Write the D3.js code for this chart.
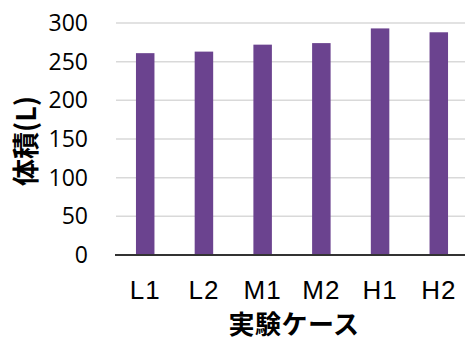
<!DOCTYPE html>
<html>
<head>
<meta charset="utf-8">
<script src="https://cdn.jsdelivr.net/npm/d3@7"></script>
<style>
  html, body { margin: 0; padding: 0; background: #fff; }
  svg { display: block; }
</style>
</head>
<body>
<svg id="chart" width="465" height="341"></svg>
<script>
// Experiment cases and measured volume (L)
const cases = ["L1", "L2", "M1", "M2", "H1", "H2"];
const volumes = [261, 263, 272, 274, 293, 288];
const yTicks = [0, 50, 100, 150, 200, 250, 300];

const W = 465, H = 341;
const margin = { top: 23, right: -3, bottom: 86, left: 116 };

const svg = d3.select("#chart");

const x = d3.scaleBand()
  .domain(cases)
  .range([margin.left, W - margin.right])
  .paddingInner(0.685)
  .paddingOuter(0.34);

const y = d3.scaleLinear()
  .domain([0, 300])
  .range([H - margin.bottom, margin.top]);

// horizontal gridlines
svg.append("g")
  .selectAll("line")
  .data(yTicks.filter(d => d > 0))
  .join("line")
  .attr("x1", margin.left)
  .attr("x2", W)
  .attr("y1", d => y(d))
  .attr("y2", d => y(d))
  .attr("stroke", "#d9d9d9")
  .attr("stroke-width", 1.5);

// y axis labels
const yAxis = d3.axisLeft(y).tickValues(yTicks).tickSize(0).tickPadding(0);
const gy = svg.append("g")
  .attr("transform", `translate(88,0)`)
  .call(yAxis);
gy.select(".domain").remove();
gy.selectAll("text")
  .attr("font-family", "'Open Sans', 'Noto Sans', sans-serif")
  .attr("font-size", 23)
  .attr("fill", "#000");

// bars
svg.append("g")
  .selectAll("rect")
  .data(cases.map((c, i) => ({ c, v: volumes[i] })))
  .join("rect")
  .attr("x", d => x(d.c))
  .attr("width", x.bandwidth())
  .attr("y", d => y(d.v))
  .attr("height", d => y(0) - y(d.v))
  .attr("fill", "#6b438f");

// x axis
const xAxis = d3.axisBottom(x).tickSize(0).tickPadding(26);
const gx = svg.append("g")
  .attr("transform", `translate(0,${y(0)})`)
  .call(xAxis);
gx.select(".domain")
  .attr("d", `M${margin.left - 1},0H${W}`)
  .attr("stroke", "#333")
  .attr("stroke-width", 2);
gx.selectAll("text")
  .attr("font-family", "'Liberation Sans', Arial, sans-serif")
  .attr("font-size", 26)
  .attr("letter-spacing", 1)
  .attr("fill", "#000");

// axis titles
svg.append("text")
  .attr("x", 294)
  .attr("y", 334)
  .attr("text-anchor", "middle")
  .attr("font-family", "'Noto Sans CJK JP', sans-serif")
  .attr("font-weight", "bold")
  .attr("font-size", 26)
  .attr("letter-spacing", 0.5)
  .text("実験ケース");

svg.append("text")
  .attr("transform", `translate(36,141) rotate(-90)`)
  .attr("text-anchor", "middle")
  .attr("font-family", "'Noto Sans CJK JP', sans-serif")
  .attr("font-weight", "bold")
  .attr("font-size", 27)
  .text("体積(L)");
</script>
</body>
</html>
